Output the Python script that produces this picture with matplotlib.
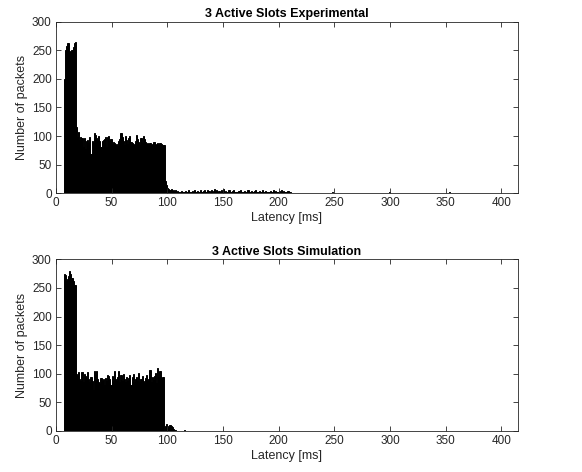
import numpy as np
import matplotlib.pyplot as plt

plt.rcParams['font.family'] = ['Liberation Sans', 'DejaVu Sans']

# latency histograms, 1 ms bins, first bin starts at 7 ms
first_bin = 7

exp_peak = [200, 250, 258, 263, 262, 248, 247, 250, 255, 262, 264]
exp_mid = [116, 99, 107, 93, 98, 96, 81, 96, 78, 92, 93, 88, 99, 69, 92, 88,
           105, 102, 97, 92, 100, 92, 81, 92, 94, 95, 98, 81, 99, 101, 92, 95,
           86, 90, 88, 84, 87, 82, 91, 95, 105, 98, 92, 85, 100, 94, 86, 96,
           100, 90, 88, 87, 85, 92, 102, 95, 90, 85, 97, 88, 100, 95, 90, 87,
           88, 86, 88, 84, 86, 89, 90, 85, 87, 88, 84, 88, 86, 85, 84]
exp_tail = [85, 22, 15, 10, 7, 5, 8, 4, 6, 3, 5, 2, 4, 3, 2, 4, 3, 2, 3, 4,
            2, 3, 5, 2, 3, 4, 2, 5, 3, 2, 4, 3, 6, 2, 3, 4, 5, 3, 2, 6, 4, 3,
            5, 2, 4, 7, 3, 5, 2, 4, 3, 6, 2, 8, 2, 4, 3, 2, 5, 3, 2, 4, 6, 3,
            2, 3, 2, 4, 5, 2, 3, 2, 4, 3, 2, 5, 2, 3, 4, 2, 3, 4, 6, 3, 2, 4,
            3, 2, 5, 3, 2, 4, 3, 2, 3, 4, 2, 3, 5, 2, 4, 3, 2, 4, 3, 5, 2, 4,
            3, 2, 3, 4, 2, 3]
exp_rare_ms = [218, 222, 237, 248, 253, 264, 272, 280, 288, 299, 306,
               334, 341, 348, 353, 359]
exp_rare_n = [1, 1, 1, 2, 1, 1, 1, 1, 1, 2, 1, 1, 1, 1, 2, 1]

sim_peak = [275, 273, 262, 265, 270, 280, 275, 268, 262, 255, 255]
sim_mid = [100, 96, 103, 90, 88, 103, 85, 100, 96, 92, 103, 90, 85, 95, 88,
           72, 105, 97, 105, 90, 85, 82, 93, 88, 90, 80, 92, 88, 97, 96, 90,
           80, 96, 88, 105, 90, 88, 95, 105, 85, 97, 88, 100, 90, 86, 94, 88,
           92, 97, 80, 95, 99, 86, 90, 94, 88, 102, 85, 91, 96, 88, 84, 93,
           98, 87, 90, 106, 85, 94, 89, 96, 102, 84, 110, 95, 105, 93, 95, 94]
sim_tail = [0, 9, 12, 8, 6, 10, 8, 7, 3, 1, 1, 0, 0, 0, 0, 0, 0, 0, 2]

exp_counts = np.array(exp_peak + exp_mid + exp_tail)
sim_counts = np.array(sim_peak + sim_mid + sim_tail)
exp_edges = first_bin + np.arange(len(exp_counts))
sim_edges = first_bin + np.arange(len(sim_counts))

grey = (0.15, 0.15, 0.15)

fig = plt.figure(figsize=(5.82, 4.72), dpi=100)
ax1 = fig.add_axes([0.096, 0.5905, 0.794, 0.3636])
ax2 = fig.add_axes([0.096, 0.0869, 0.794, 0.3638])

panels = [
    (ax1, exp_edges, exp_counts, '3 Active Slots Experimental'),
    (ax2, sim_edges, sim_counts, '3 Active Slots Simulation'),
]
for ax, edges, counts, title in panels:
    ax.bar(edges, counts, width=1, align='edge', color='k',
           edgecolor='k', linewidth=0.7)
    ax.set_xlim(0, 415)
    ax.set_ylim(0, 300)
    ax.set_xticks(np.arange(0, 401, 50))
    ax.set_yticks(np.arange(0, 301, 50))
    ax.tick_params(direction='in', length=3.5, width=0.6, top=True,
                   right=True, labelsize=8.5, colors=grey, pad=3)
    for s in ax.spines.values():
        s.set_color(grey)
        s.set_linewidth(0.6)
    ax.set_xlabel('Latency [ms]', fontsize=9, color=grey, labelpad=2)
    ax.set_ylabel('Number of packets', fontsize=9, color=grey, labelpad=3)
    ax.set_title(title, fontsize=9, fontweight='bold', color='k', pad=3)

ax1.bar(exp_rare_ms, exp_rare_n, width=1, align='edge', color='k',
        edgecolor='k', linewidth=0.7)

plt.savefig('out.png', dpi=100)
